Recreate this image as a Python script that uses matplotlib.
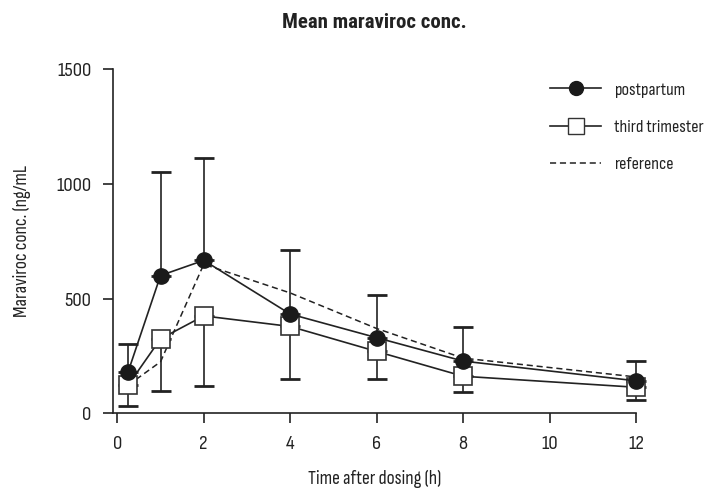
import matplotlib
matplotlib.use("Agg")
import matplotlib.pyplot as plt
from matplotlib.lines import Line2D

plt.rcParams['font.family'] = ['Sofia Sans Condensed', 'Roboto Condensed', 'DejaVu Sans']

# sampling times (h)
times = [0.25, 1, 2, 4, 6, 8, 12]

# mean concentrations (ng/mL)
postpartum = [181, 601, 667, 433, 330, 228, 142]
postpartum_sd = [122, 453, 447, 279, 185, 149, 86]
third_trimester = [123, 325, 425, 379, 270, 162, 114]
third_trimester_sd = [91, 229, 307, 230, 121, 68, 57]
reference = [123, 225, 650, 525, 370, 241, 159]

ink = '#222222'

fig = plt.figure(figsize=(7.06, 4.91), dpi=100)
ax = fig.add_axes([0.160, 0.158, 0.741, 0.701])

# postpartum: error bars above the mean only
ax.errorbar(times, postpartum, yerr=[[0] * len(times), postpartum_sd],
            fmt='none', ecolor=ink, elinewidth=1.2, capsize=7, capthick=2,
            zorder=2, clip_on=False)
# third trimester: error bars below the mean only
ax.errorbar(times, third_trimester, yerr=[third_trimester_sd, [0] * len(times)],
            fmt='none', ecolor=ink, elinewidth=1.2, capsize=7, capthick=2,
            zorder=2, clip_on=False)

ax.plot(times, reference, color=ink, lw=1.1, ls=(0, (4, 2.5)), zorder=3, clip_on=False)
ax.plot(times, third_trimester, color=ink, lw=1.2, marker='s', ms=13,
        mfc='white', mec='#333333', mew=1.2, zorder=4, clip_on=False)
ax.plot(times, postpartum, color=ink, lw=1.2, marker='o', ms=11,
        mfc='#1a1a1a', mec='#1a1a1a', zorder=5, clip_on=False)

ax.set_xlim(-0.1, 12)
ax.set_ylim(0, 1500)
ax.set_xticks([0, 2, 4, 6, 8, 10, 12])
ax.set_yticks([0, 500, 1000, 1500])
ax.spines['top'].set_visible(False)
ax.spines['right'].set_visible(False)
for s in ['left', 'bottom']:
    ax.spines[s].set_linewidth(1.2)
    ax.spines[s].set_color(ink)
ax.tick_params(length=7.5, width=1.2, color=ink, labelsize=15, pad=8, labelcolor=ink)

ax.set_xlabel('Time after dosing (h)', fontsize=14, labelpad=12, color=ink)
ax.set_ylabel('Maraviroc conc. (ng/mL', fontsize=14, labelpad=18, color=ink)
ax.set_title('Mean maraviroc conc.', fontsize=15, fontweight='bold', pad=30, color=ink,
             family=['Roboto Condensed', 'DejaVu Sans'])

handles = [
    Line2D([], [], color=ink, lw=1.2, marker='o', ms=10, mfc='#1a1a1a', mec='#1a1a1a'),
    Line2D([], [], color=ink, lw=1.2, marker='s', ms=11, mfc='white', mec='#333333'),
    Line2D([], [], color=ink, lw=1.1, ls=(0, (4, 2.5))),
]
ax.legend(handles, ['postpartum', 'third trimester', 'reference'], frameon=False,
          loc='upper left', bbox_to_anchor=(0.805, 1.01), fontsize=13,
          handlelength=2.8, labelspacing=1.2, handletextpad=0.75, labelcolor=ink)

fig.savefig('out.png', dpi=100)
